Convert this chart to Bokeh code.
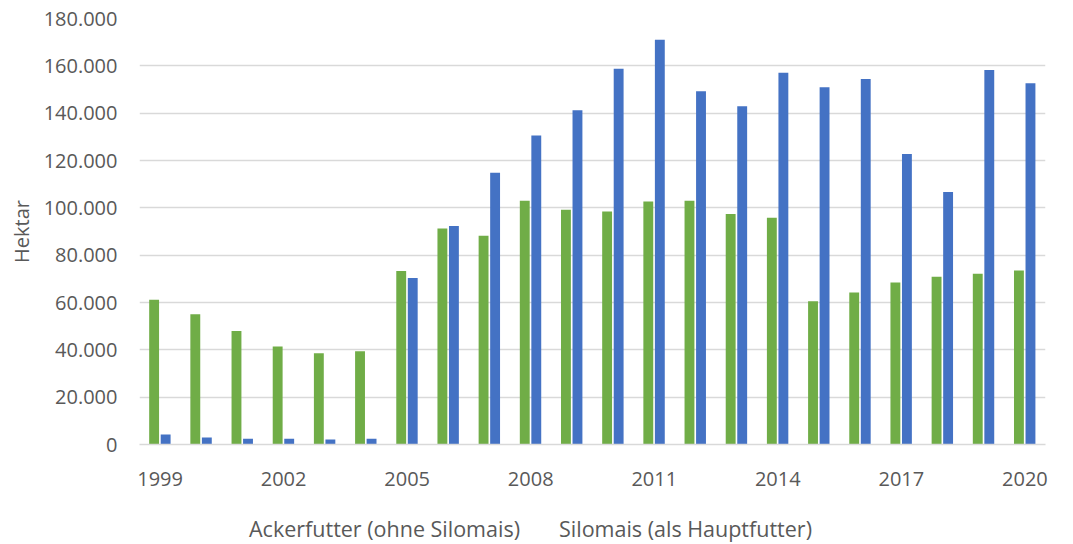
from bokeh.plotting import figure
from bokeh.layouts import column
from bokeh.models import (ColumnDataSource, Range1d, FixedTicker, Legend, LegendItem,
                          CDSView, IndexFilter)
from bokeh.transform import dodge
from bokeh.embed import file_html
from bokeh.resources import INLINE

# Fläche in Hektar je Jahr
years = list(range(1999, 2021))
ackerfutter = [61200, 55000, 48000, 41400, 38600, 39400, 73300, 91300, 88200, 103000,
               99200, 98500, 102700, 103000, 97400, 95800, 60500, 64200, 68400, 70900,
               72100, 73500]
silomais = [4200, 3000, 2400, 2400, 2100, 2400, 70400, 92300, 114800, 130600,
            141200, 158800, 171000, 149300, 142900, 157100, 150900, 154400, 122700, 106700,
            158200, 152600]
x_ticks = [1999, 2002, 2005, 2008, 2011, 2014, 2017, 2020]
y_ticks = list(range(0, 180001, 20000))
series_names = ["Ackerfutter (ohne Silomais)", "Silomais (als Hauptfutter)"]

GREEN = "#70ad47"
BLUE = "#4472c4"
TEXT = "#595959"
FONT = "Open Sans"

src = ColumnDataSource(dict(year=years, acker=ackerfutter, silo=silomais))


def add_bars(fig, view=None):
    extra = {} if view is None else {"view": view}
    g = fig.vbar(x=dodge("year", -0.145, range=fig.x_range), top="acker", width=0.24,
                 source=src, color=GREEN, line_color=None, **extra)
    b = fig.vbar(x=dodge("year", 0.135, range=fig.x_range), top="silo", width=0.24,
                 source=src, color=BLUE, line_color=None, **extra)
    return g, b


# main chart
p = figure(width=1073, height=510, output_backend="svg", toolbar_location=None,
           x_range=Range1d(1998.5, 2020.5), y_range=Range1d(0, 180000),
           min_border_left=139, min_border_right=28, min_border_top=18,
           min_border_bottom=66)
p.outline_line_color = None
p.background_fill_color = "white"
p.border_fill_color = "white"
add_bars(p)

p.xaxis.ticker = FixedTicker(ticks=x_ticks)
p.xaxis.axis_line_color = "#d9d9d9"
p.xaxis.axis_line_width = 1.5
p.xaxis.major_tick_line_color = None
p.xaxis.minor_tick_line_color = None
p.xaxis.major_label_text_font = FONT
p.xaxis.major_label_text_font_size = "20px"
p.xaxis.major_label_text_color = TEXT
p.xaxis.major_label_standoff = 21

p.yaxis.ticker = FixedTicker(ticks=y_ticks)
p.yaxis.major_label_overrides = {v: f"{v:,}".replace(",", ".") for v in y_ticks}
p.yaxis.axis_line_color = None
p.yaxis.major_tick_line_color = None
p.yaxis.minor_tick_line_color = None
p.yaxis.major_label_text_font = FONT
p.yaxis.major_label_text_font_size = "20px"
p.yaxis.major_label_text_color = TEXT
p.yaxis.major_label_standoff = 16
p.yaxis.axis_label = "Hektar"
p.yaxis.axis_label_text_font = FONT
p.yaxis.axis_label_text_font_size = "20px"
p.yaxis.axis_label_text_font_style = "normal"
p.yaxis.axis_label_text_color = TEXT
p.yaxis.axis_label_standoff = 6

p.xgrid.grid_line_color = None
p.ygrid.grid_line_color = "#d9d9d9"
p.ygrid.grid_line_width = 1.5

# legend strip: same series styling, no rows drawn, only the key
lf = figure(width=1073, height=34, output_backend="svg", toolbar_location=None,
            x_range=Range1d(0, 1), y_range=Range1d(0, 1),
            x_axis_type=None, y_axis_type=None,
            min_border_left=0, min_border_right=0, min_border_top=0, min_border_bottom=0)
lf.outline_line_color = None
lf.grid.visible = False
lf.background_fill_color = "white"
lf.border_fill_color = "white"
g, b = add_bars(lf, view=CDSView(filter=IndexFilter(indices=[])))

# the strip's frame is aligned with the chart frame above, so x is measured from there
legend = Legend(items=[LegendItem(label=series_names[0], renderers=[g]),
                       LegendItem(label=series_names[1], renderers=[b])],
                orientation="horizontal", location=(94, 1),
                label_text_font=FONT, label_text_font_size="21.5px",
                label_text_color=TEXT, glyph_width=12, glyph_height=12,
                label_standoff=4, spacing=23, border_line_color=None,
                background_fill_alpha=0, margin=0, padding=2)
lf.add_layout(legend, "center")

layout = column(p, lf, spacing=0)

with open("out.html", "w") as f:
    f.write(file_html(layout, INLINE))
